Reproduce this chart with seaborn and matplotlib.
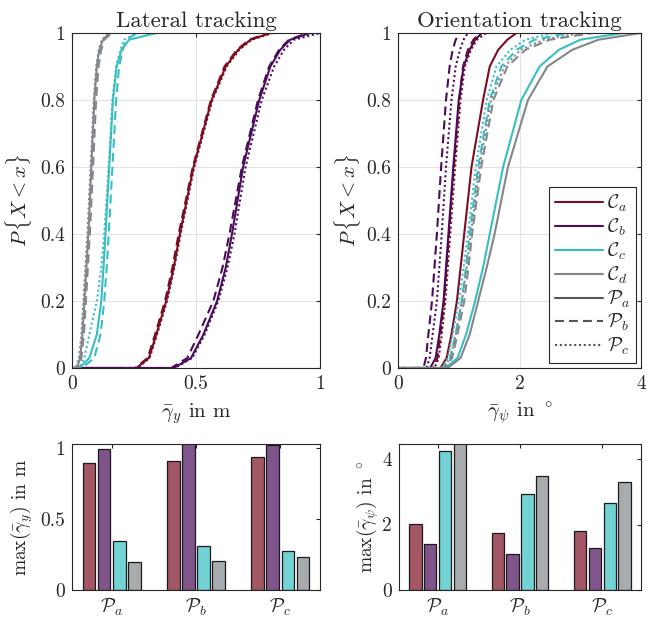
import numpy as np
import pandas as pd
import matplotlib
matplotlib.use("Agg")
import matplotlib.pyplot as plt
from matplotlib.lines import Line2D
from matplotlib.colors import to_rgb
import seaborn as sns

# cdf levels shared by all curves (first point is the start of the flat part at x=0)
levels = [0, 0, 0.03, 0.1, 0.2, 0.3, 0.4, 0.6, 0.8, 0.9, 0.95, 0.98, 1]

# lateral tracking, rows = P_a, P_b, P_c
lat_Ca = [[0, 0.26, 0.31, 0.34, 0.38, 0.41, 0.435, 0.49, 0.563, 0.62, 0.67, 0.72, 0.80],
          [0, 0.255, 0.305, 0.335, 0.375, 0.405, 0.43, 0.487, 0.56, 0.615, 0.665, 0.715, 0.79],
          [0, 0.265, 0.313, 0.343, 0.383, 0.413, 0.438, 0.493, 0.566, 0.624, 0.675, 0.725, 0.81]]
lat_Cb = [[0, 0.41, 0.48, 0.53, 0.585, 0.62, 0.645, 0.69, 0.755, 0.80, 0.84, 0.88, 0.96],
          [0, 0.40, 0.465, 0.51, 0.57, 0.607, 0.635, 0.685, 0.75, 0.795, 0.835, 0.875, 0.95],
          [0, 0.415, 0.485, 0.535, 0.59, 0.627, 0.655, 0.70, 0.765, 0.815, 0.855, 0.895, 1.0]]
lat_Cc = [[0, 0.03, 0.07, 0.10, 0.118, 0.127, 0.135, 0.15, 0.165, 0.18, 0.20, 0.23, 0.34],
          [0, 0.04, 0.09, 0.115, 0.13, 0.14, 0.148, 0.163, 0.178, 0.19, 0.205, 0.22, 0.26],
          [0, 0.03, 0.05, 0.07, 0.10, 0.118, 0.13, 0.148, 0.163, 0.178, 0.195, 0.21, 0.27]]
lat_Cd = [[0, 0.02, 0.033, 0.042, 0.05, 0.058, 0.066, 0.078, 0.09, 0.10, 0.11, 0.125, 0.15],
          [0, 0.025, 0.038, 0.048, 0.056, 0.064, 0.072, 0.085, 0.097, 0.107, 0.118, 0.13, 0.16],
          [0, 0.015, 0.028, 0.038, 0.046, 0.054, 0.062, 0.075, 0.088, 0.098, 0.108, 0.12, 0.15]]

# orientation tracking
ori_Ca = [[0, 0.70, 0.80, 0.88, 0.97, 1.03, 1.09, 1.21, 1.40, 1.51, 1.65, 1.80, 1.95],
          [0, 0.58, 0.65, 0.70, 0.76, 0.80, 0.84, 0.92, 1.01, 1.07, 1.15, 1.24, 1.35],
          [0, 0.60, 0.67, 0.72, 0.78, 0.82, 0.86, 0.94, 1.03, 1.10, 1.20, 1.30, 1.45]]
ori_Cb = [[0, 0.53, 0.62, 0.68, 0.75, 0.79, 0.83, 0.91, 1.00, 1.08, 1.18, 1.27, 1.38],
          [0, 0.42, 0.46, 0.50, 0.56, 0.60, 0.64, 0.71, 0.79, 0.85, 0.90, 0.95, 1.02],
          [0, 0.47, 0.52, 0.57, 0.64, 0.68, 0.72, 0.79, 0.88, 0.95, 1.02, 1.08, 1.15]]
ori_Cc = [[0, 0.78, 0.98, 1.12, 1.27, 1.40, 1.51, 1.73, 2.03, 2.33, 2.65, 3.0, 3.70],
          [0, 0.75, 0.86, 0.95, 1.05, 1.12, 1.18, 1.32, 1.51, 1.70, 1.95, 2.25, 2.80],
          [0, 0.72, 0.82, 0.90, 1.00, 1.08, 1.15, 1.28, 1.46, 1.62, 1.85, 2.10, 2.55]]
ori_Cd = [[0, 0.82, 1.03, 1.18, 1.32, 1.46, 1.59, 1.81, 2.14, 2.46, 2.87, 3.30, 4.00],
          [0, 0.78, 0.89, 0.98, 1.09, 1.16, 1.22, 1.37, 1.57, 1.80, 2.10, 2.50, 3.20],
          [0, 0.75, 0.86, 0.95, 1.05, 1.13, 1.20, 1.34, 1.53, 1.75, 2.02, 2.40, 3.00]]

# max values per profile P_a, P_b, P_c
bar_lat_Ca = [0.893, 0.91, 0.936]
bar_lat_Cb = [0.995, 1.04, 1.02]
bar_lat_Cc = [0.345, 0.307, 0.276]
bar_lat_Cd = [0.198, 0.207, 0.231]
bar_ori_Ca = [2.02, 1.74, 1.81]
bar_ori_Cb = [1.415, 1.11, 1.28]
bar_ori_Cc = [4.24, 2.92, 2.67]
bar_ori_Cd = [4.6, 3.47, 3.29]

configs = [r"$\mathcal{C}_a$", r"$\mathcal{C}_b$", r"$\mathcal{C}_c$", r"$\mathcal{C}_d$"]
profiles = [r"$\mathcal{P}_a$", r"$\mathcal{P}_b$", r"$\mathcal{P}_c$"]
colors = ["#7B0E22", "#4A0C5A", "#37BEC2", "#83878B"]
dashes = {profiles[0]: "", profiles[1]: (4.3, 2.4), profiles[2]: (1, 1.3)}

sns.set_style("white")
plt.rcParams["font.family"] = "serif"
plt.rcParams["font.serif"] = ["cmr10", "DejaVu Serif"]
plt.rcParams["mathtext.fontset"] = "cm"
plt.rcParams["axes.unicode_minus"] = False


def cdf_frame(curves):
    rows = []
    for c, per_prof in zip(configs, curves):
        for p, xs in zip(profiles, per_prof):
            for x, y in zip(xs, levels):
                rows.append({"x": x, "p": y, "config": c, "profile": p})
    return pd.DataFrame(rows)


def bar_frame(vals):
    rows = []
    for c, v in zip(configs, vals):
        for p, val in zip(profiles, v):
            rows.append({"profile": p, "config": c, "val": val})
    return pd.DataFrame(rows)


def style_box(ax):
    for s in ax.spines.values():
        s.set_visible(True)
        s.set_color("#262626")
        s.set_linewidth(0.8)
    ax.tick_params(direction="in", top=True, right=True, length=3,
                   color="#262626", labelsize=14, pad=5)


fig = plt.figure(figsize=(6.47, 6.2), dpi=100)
W, H = 647, 620
ax_tl = fig.add_axes([72 / W, 1 - 368 / H, 248 / W, 335 / H])
ax_tr = fig.add_axes([398 / W, 1 - 368 / H, 243 / W, 335 / H])
ax_bl = fig.add_axes([72 / W, 1 - 590 / H, 248 / W, 146 / H])
ax_br = fig.add_axes([399 / W, 1 - 590 / H, 242 / W, 146 / H])

# cdf curves
for ax, curves, xmax, xt, xlab, title, lp in [
        (ax_tl, [lat_Ca, lat_Cb, lat_Cc, lat_Cd], 1, [0, 0.5, 1],
         r"$\bar{\gamma}_y$ in m", "Lateral tracking", 4),
        (ax_tr, [ori_Ca, ori_Cb, ori_Cc, ori_Cd], 4, [0, 2, 4],
         r"$\bar{\gamma}_\psi$ in $^\circ$", "Orientation tracking", 2)]:
    df = cdf_frame(curves)
    sns.lineplot(data=df, x="x", y="p", hue="config", style="profile",
                 palette=colors, dashes=dashes, estimator=None, sort=False,
                 legend=False, lw=1.5, ax=ax)
    ax.set_xlim(0, xmax)
    ax.set_ylim(0, 1)
    ax.set_xticks(xt)
    ax.set_xticklabels([f"{v:g}" for v in xt])
    ax.set_yticks([0, 0.2, 0.4, 0.6, 0.8, 1])
    ax.set_yticklabels(["0", "0.2", "0.4", "0.6", "0.8", "1"])
    ax.grid(True, color="#e3e3e3", lw=0.8)
    style_box(ax)
    ax.set_xlabel(xlab, fontsize=15, labelpad=6)
    ax.set_ylabel(r"$P\,\{X < x\}$", fontsize=15, labelpad=lp)
    ax.set_title(title, fontsize=16.5, pad=4)

# legend
handles = [Line2D([], [], color=c, lw=1.5) for c in colors]
handles += [Line2D([], [], color="#555555", lw=1.5, ls=ls)
            for ls in ["-", (0, (4.3, 2.4)), (0, (1, 1.3))]]
leg = ax_tr.legend(handles, configs + profiles, loc="lower right",
                   fontsize=14, handlelength=2.5, handletextpad=0.2,
                   labelspacing=0.13, borderpad=0.3, borderaxespad=0.25,
                   fancybox=False, framealpha=1)
leg.get_frame().set_edgecolor("#262626")
leg.get_frame().set_linewidth(0.8)

# bar charts
light = [tuple(0.7 * np.array(to_rgb(c)) + 0.3) for c in colors]
for ax, vals, ymax, yt, ylab, lp in [
        (ax_bl, [bar_lat_Ca, bar_lat_Cb, bar_lat_Cc, bar_lat_Cd], 1.03,
         [0, 0.5, 1], r"$\max(\bar{\gamma}_y)$ in m", 4),
        (ax_br, [bar_ori_Ca, bar_ori_Cb, bar_ori_Cc, bar_ori_Cd], 4.46,
         [0, 2, 4], r"$\max(\bar{\gamma}_\psi)$ in $^\circ$", 1)]:
    df = bar_frame(vals)
    sns.barplot(data=df, x="profile", y="val", hue="config", palette=light,
                width=0.72, gap=0.167, edgecolor="#1a1a1a", linewidth=0.9,
                saturation=1, legend=False, ax=ax)
    ax.set_xlim(-0.47, 2.47)
    ax.set_ylim(0, ymax)
    ax.set_yticks(yt)
    ax.set_yticklabels([f"{v:g}" for v in yt])
    style_box(ax)
    ax.set_xlabel("")
    ax.set_ylabel(ylab, fontsize=14, labelpad=lp)

fig.savefig("out.png", dpi=100)
